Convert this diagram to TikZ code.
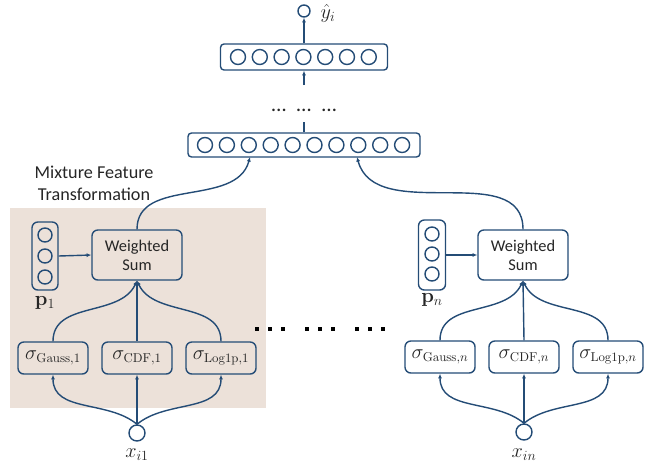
\documentclass[tikz,border=0pt]{standalone}
\usepackage[no-math]{fontspec}
\setmainfont{Carlito}
\usetikzlibrary{arrows.meta}
\definecolor{nnblue}{RGB}{36,76,118}
\definecolor{mixbg}{RGB}{236,225,217}

\begin{document}
\begin{tikzpicture}[
		x=0.03cm, y=-0.03cm,
		every node/.style={font=\fontsize{14}{16}\selectfont, text=black!85},
		neuron/.style={circle, draw=nnblue, line width=1.2pt, inner sep=0pt, minimum size=0.45cm},
		layerbox/.style={rectangle, rounded corners=3pt, draw=nnblue, line width=1.2pt, inner sep=0pt},
		opbox/.style={rectangle, rounded corners=5pt, draw=nnblue, line width=1.2pt, inner sep=0pt, align=center},
		sigbox/.style={opbox, minimum width=2.1cm, minimum height=0.96cm, font=\fontsize{16}{18}\selectfont},
		mathlabel/.style={font=\fontsize{17}{19}\selectfont},
		flow/.style={draw=nnblue, line width=1.2pt, -{Latex[length=4pt,width=3.5pt]}},
		link/.style={draw=nnblue, line width=1.2pt}
	]
		\useasboundingbox (0,0) rectangle (657,469);

		% shaded block of the first feature
		\fill[mixbg] (10,208) rectangle (266,408);
		\node[align=center, font=\fontsize{15.5}{19}\selectfont] (mixtitle) at (94,183) {Mixture Feature\\Transformation};

		% output and the two hidden layers
		\node[neuron, minimum size=0.36cm] (yout) at (304,11) {};
		\node[mathlabel] (ylabel) at (328,13) {$\hat{y}_i$};
		\node[layerbox, minimum width=5.01cm, minimum height=0.78cm] (toplayer) at (304,57) {};
		\foreach \k in {0,...,6}
			\node[neuron] (t\k) at (238+21.8*\k,57) {};
		\node[layerbox, minimum width=6.96cm, minimum height=0.72cm] (biglayer) at (304,145) {};
		\foreach \k in {0,...,9}
			\node[neuron] (b\k) at (205+21.9*\k,145) {};
		\node[font=\fontsize{18}{18}\selectfont] (vdots) at (304,110) {…\hspace{9pt}…\hspace{9pt}…};
		\coordinate (dotsup) at (304,85);
		\coordinate (dotsdown) at (304,122);
		\coordinate (in1) at (250,157);
		\coordinate (inn) at (357,157);

		\draw[flow] (toplayer.north) -- (yout.south);
		\draw[flow] (dotsup) -- (toplayer.south);
		\draw[link] (biglayer.north) -- (dotsdown);

		% feature 1
		\node[opbox, minimum width=0.78cm, minimum height=2.04cm] (p1box) at (45,256) {};
		\node[neuron, minimum size=0.42cm] (p1a) at (45,235) {};
		\node[neuron, minimum size=0.42cm] (p1b) at (45,256) {};
		\node[neuron, minimum size=0.42cm] (p1c) at (45,277) {};
		\node[mathlabel] (p1label) at (45,303) {$\mathbf{p}_1$};
		\node[opbox, minimum width=2.7cm, minimum height=1.5cm] (ws1) at (137,255) {Weighted\\Sum};
		\node[sigbox] (s11) at (53,358) {$\sigma_{\mathrm{Gauss},1}$};
		\node[sigbox] (s12) at (137,358) {$\sigma_{\mathrm{CDF},1}$};
		\node[sigbox] (s13) at (221,358) {$\sigma_{\mathrm{Log1p},1}$};
		\node[neuron, minimum size=0.48cm] (x1) at (137,433) {};
		\node[mathlabel] (x1label) at (137,455) {$x_{i1}$};

		\draw[flow] (p1box.east) -- (ws1.west);
		\draw[flow] (s11.north) to[out=90, in=-115] (ws1.south);
		\draw[flow] (s12.north) -- (ws1.south);
		\draw[flow] (s13.north) to[out=90, in=-65] (ws1.south);
		\draw[flow] (x1.north) to[out=140, in=-90] (s11.south);
		\draw[flow] (x1.north) -- (s12.south);
		\draw[flow] (x1.north) to[out=40, in=-90] (s13.south);
		\draw[flow] (ws1.north) to[out=90, in=-105] (in1);

		% dots between the features
		\foreach \px in {257,270,283,307,320,333,357,370,383}
			\fill[black] (\px-1.7,329-1.7) rectangle (\px+1.7,329+1.7);

		% feature n
		\node[opbox, minimum width=0.81cm, minimum height=2.1cm] (pnbox) at (432,255) {};
		\node[neuron, minimum size=0.42cm] (pna) at (432,234) {};
		\node[neuron, minimum size=0.42cm] (pnb) at (432,254) {};
		\node[neuron, minimum size=0.42cm] (pnc) at (432,274) {};
		\node[mathlabel] (pnlabel) at (432,300) {$\mathbf{p}_n$};
		\node[opbox, minimum width=2.7cm, minimum height=1.5cm] (wsn) at (523,255) {Weighted\\Sum};
		\node[sigbox] (sn1) at (440,357) {$\sigma_{\mathrm{Gauss},n}$};
		\node[sigbox] (sn2) at (524,357) {$\sigma_{\mathrm{CDF},n}$};
		\node[sigbox] (sn3) at (608,357) {$\sigma_{\mathrm{Log1p},n}$};
		\node[neuron, minimum size=0.48cm] (xn) at (524,432) {};
		\node[mathlabel] (xnlabel) at (524,455) {$x_{in}$};

		\draw[flow] (pnbox.east) -- (wsn.west);
		\draw[flow] (sn1.north) to[out=90, in=-115] (wsn.south);
		\draw[flow] (sn2.north) -- (wsn.south);
		\draw[flow] (sn3.north) to[out=90, in=-65] (wsn.south);
		\draw[flow] (xn.north) to[out=140, in=-90] (sn1.south);
		\draw[flow] (xn.north) -- (sn2.south);
		\draw[flow] (xn.north) to[out=40, in=-90] (sn3.south);
		\draw[flow] (wsn.north) to[out=90, in=-75] (inn);
	\end{tikzpicture}
\end{document}
